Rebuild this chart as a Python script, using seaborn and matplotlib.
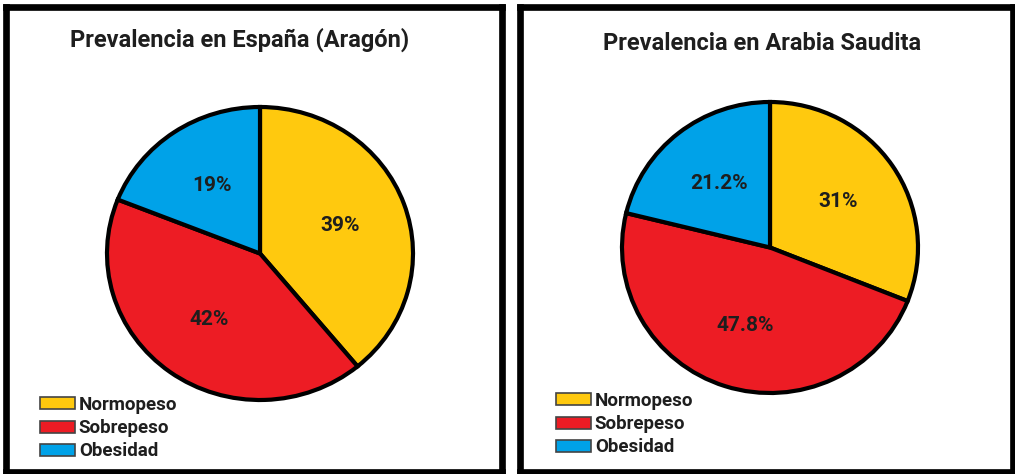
import matplotlib
matplotlib.use("Agg")
import matplotlib.pyplot as plt
from matplotlib.patches import Patch
import seaborn as sns

# ---- data ----
categories = ["Normopeso", "Sobrepeso", "Obesidad"]
spain_values = [39, 42, 19]
saudi_values = [31, 47.8, 21.2]
titles = ["Prevalencia en España (Aragón)", "Prevalencia en Arabia Saudita"]

sns.set_theme(style="white")
plt.rcParams['font.family'] = ['Roboto', 'DejaVu Sans']

colors = ["#FFC90E", "#ED1C24", "#00A2E8"]
W, H = 1015, 474
fig = plt.figure(figsize=(W / 100, H / 100), dpi=100)
fig.patch.set_facecolor("white")


def fx(px):
    return px / W


def fy(py):
    return 1 - py / H


def panel(x0, x1, y0, y1):
    ax = fig.add_axes([fx(x0), fy(y1), (x1 - x0) / W, (y1 - y0) / H])
    ax.set_xticks([])
    ax.set_yticks([])
    ax.set_facecolor("white")
    for s in ax.spines.values():
        s.set_visible(True)
        s.set_color("black")
        s.set_linewidth(4.8)
    return ax


def pie_panel(values, cx, cy, rx, ry, title, tx, ty, legx, legy):
    m = 1.05
    ax = fig.add_axes([fx(cx - rx * m), fy(cy + ry * m), 2 * rx * m / W, 2 * ry * m / H])
    ax.pie(values, colors=colors, startangle=90, counterclock=False,
           wedgeprops=dict(edgecolor="black", linewidth=3),
           autopct=lambda p: "{:g}%".format(round(p, 1)), pctdistance=0.56,
           textprops=dict(fontsize=15, fontweight="bold", color="#1e1e1e"))
    ax.set_aspect("auto")
    ax.set_xlim(-m, m)
    ax.set_ylim(-m, m)
    fig.text(fx(tx), fy(ty), title, ha="center", va="center",
             fontsize=17, fontweight="bold", color="#1e1e1e")
    handles = [Patch(facecolor=c, edgecolor="#444444", linewidth=1.2) for c in colors]
    fig.legend(handles, categories, loc="upper left",
               bbox_to_anchor=(fx(legx), fy(legy)), frameon=False,
               handlelength=1.87, handleheight=0.6,
               handletextpad=0.2, labelspacing=0.28, borderpad=0,
               borderaxespad=0, prop=dict(weight="bold", size=13.5))
    for t in fig.legends[-1].get_texts():
        t.set_color("#1e1e1e")


panel(5.5, 501.5, 7, 472)
panel(519.5, 1013, 7, 472)

pie_panel(spain_values, 260, 253.5, 153, 146.5, titles[0], 240, 40, 40, 396)
pie_panel(saudi_values, 770, 247.5, 148, 145.5, titles[1], 762, 44, 556, 392)

fig.savefig("out.png", dpi=100, facecolor="white")
